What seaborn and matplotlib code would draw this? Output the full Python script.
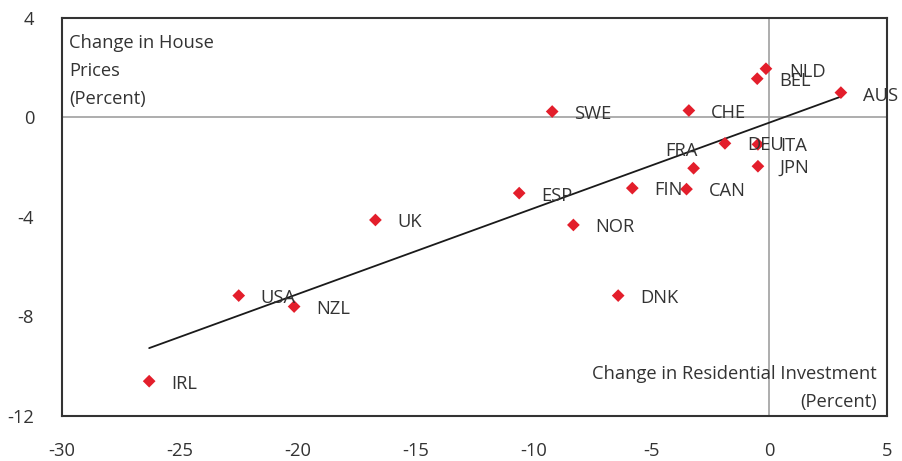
import numpy as np
import pandas as pd
import matplotlib
matplotlib.use('Agg')
import matplotlib.pyplot as plt
import seaborn as sns

# Data
countries = ['AUS', 'NLD', 'BEL', 'SWE', 'CHE', 'DEU', 'ITA', 'FRA', 'JPN', 'FIN',
             'CAN', 'ESP', 'UK', 'NOR', 'USA', 'NZL', 'DNK', 'IRL']
resid_invest = [3.05, -0.13, -0.5, -9.2, -3.4, -1.87, -0.47, -3.2, -0.47, -5.8,
                -3.5, -10.6, -16.7, -8.3, -22.5, -20.15, -6.4, -26.3]
house_prices = [1.0, 1.96, 1.56, 0.24, 0.28, -1.04, -1.08, -2.04, -1.96, -2.84,
                -2.88, -3.04, -4.12, -4.32, -7.16, -7.6, -7.16, -10.6]
x_ticks = [-30, -25, -20, -15, -10, -5, 0, 5]
y_ticks = [-12, -8, -4, 0, 4]

df = pd.DataFrame({'country': countries, 'x': resid_invest, 'y': house_prices})

sns.set_style('white')
plt.rcParams['font.family'] = ['Open Sans', 'DejaVu Sans']

fig = plt.figure(figsize=(9.02, 4.61), dpi=100)
ax = fig.add_axes([0.0687, 0.0976, 0.9145, 0.8634])

text_color = '#333333'
fs = 13.2
ax.axhline(0, color='#a0a0a0', lw=1.2, zorder=1)
ax.axvline(0, color='#a0a0a0', lw=1.2, zorder=1)

# Fitted line over the range of the data
sns.regplot(data=df, x='x', y='y', scatter=False, ci=None, ax=ax,
            line_kws={'color': '#1a1a1a', 'lw': 1.3, 'zorder': 2})
sns.scatterplot(data=df, x='x', y='y', marker='D', color='#e31e2b', s=42,
                edgecolor='none', ax=ax, zorder=3)

# label offsets in pixels (default: right of the point)
offsets = {'FRA': (-28, 17), 'ESP': (22, -3), 'NZL': (22, -2), 'IRL': (22, -3),
           'AUS': (22, -3), 'NLD': (23, -3)}
for c, xv, yv in zip(countries, resid_invest, house_prices):
    dx, dy = offsets.get(c, (22, -2))
    ax.annotate(c, (xv, yv), xytext=(dx, dy), textcoords='offset pixels',
                ha='left', va='center', fontsize=fs, color=text_color)

ax.text(0.009, 0.96, 'Change in House\nPrices\n(Percent)', transform=ax.transAxes,
        ha='left', va='top', fontsize=fs, color=text_color, linespacing=1.72)
ax.text(0.988, 0.012, 'Change in Residential Investment\n(Percent)', transform=ax.transAxes,
        ha='right', va='bottom', fontsize=fs, color=text_color, linespacing=1.72,
        multialignment='right')

ax.set_xlim(-30, 5)
ax.set_ylim(-12, 4)
ax.set_xticks(x_ticks)
ax.set_yticks(y_ticks)
ax.set_xticklabels([str(t) for t in x_ticks])
ax.set_yticklabels([str(t) for t in y_ticks])
ax.tick_params(axis='both', length=0, labelsize=fs, labelcolor=text_color)
ax.tick_params(axis='x', pad=19)
ax.tick_params(axis='y', pad=20)
ax.set_xlabel('')
ax.set_ylabel('')
for s in ax.spines.values():
    s.set_visible(True)
    s.set_color('#333333')
    s.set_linewidth(1.5)

fig.savefig('out.png', dpi=100)
